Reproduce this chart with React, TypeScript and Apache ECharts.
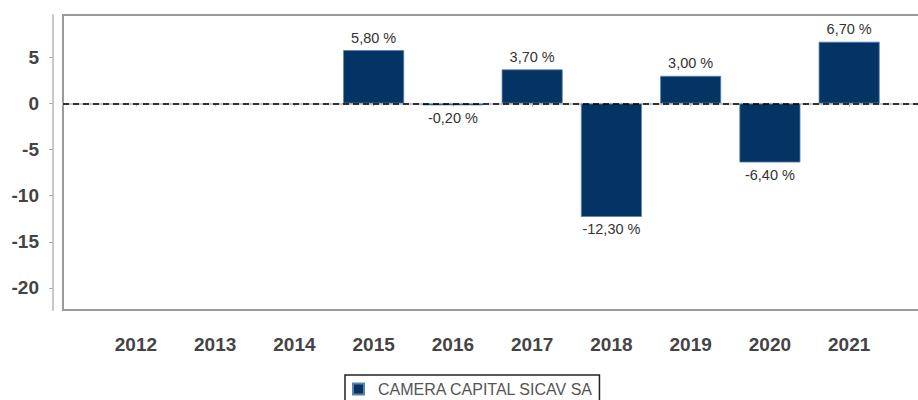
import React, { useEffect, useRef } from "react";
import * as echarts from "echarts";

const years = [2012, 2013, 2014, 2015, 2016, 2017, 2018, 2019, 2020, 2021];
const values: (number | null)[] = [null, null, null, 5.8, -0.2, 3.7, -12.3, 3.0, -6.4, 6.7];
const yTicks = [-20, -15, -10, -5, 0, 5];
const seriesName = "CAMERA CAPITAL SICAV SA";

const fmt = (v: number) => v.toFixed(2).replace(".", ",") + " %";

export default function App() {
  const ref = useRef<HTMLDivElement>(null);
  useEffect(() => {
    if (!ref.current) return;
    const chart = echarts.init(ref.current, null, { renderer: "svg" });
    const font = "'Liberation Sans', Arial, sans-serif";
    chart.setOption({
      animation: false,
      grid: {
        left: 63,
        right: -12,
        top: 15,
        bottom: 90,
        show: false,
        containLabel: false,
        outerBoundsMode: "none",
      },
      graphic: [
        {
          type: "polyline",
          silent: true,
          shape: { points: [[930, 15], [63, 15], [63, 310], [930, 310]] },
          style: { stroke: "#9a9a9a", lineWidth: 2, fill: null },
        },
      ],
      xAxis: {
        type: "value",
        min: 2011.08,
        max: 2022.02,
        offset: 8,
        axisLine: { show: true, lineStyle: { color: "#c8c8c8", width: 2 } },
        axisTick: {
          show: true,
          length: 3,
          inside: false,
          customValues: years,
          lineStyle: { color: "#b0b0b0" },
        },
        axisLabel: {
          customValues: years,
          margin: 17,
          fontFamily: font,
          fontWeight: "bold",
          fontSize: 19,
          color: "#444",
          formatter: (v: number) => String(Math.round(v)),
        },
        splitLine: { show: false },
      },
      yAxis: {
        type: "value",
        min: -22.4,
        max: 9.6,
        offset: 10,
        axisLine: { show: true, lineStyle: { color: "#c8c8c8", width: 2 } },
        axisTick: {
          show: true,
          length: 4,
          customValues: yTicks,
          lineStyle: { color: "#b0b0b0" },
        },
        axisLabel: {
          customValues: yTicks,
          margin: 14,
          fontFamily: font,
          fontWeight: "bold",
          fontSize: 19,
          color: "#444",
        },
        splitLine: { show: false },
      },
      legend: {
        left: 345,
        top: 375,
        data: [seriesName],
        icon: "rect",
        itemWidth: 11,
        itemHeight: 11,
        borderColor: "#222",
        borderWidth: 1.5,
        padding: [6, 6, 10, 7],
        textStyle: {
          fontFamily: font,
          fontSize: 16,
          color: "#555",
          padding: [0, 0, 0, 9],
        },
      },
      series: [
        {
          name: seriesName,
          type: "bar",
          barWidth: 61,
          data: years.map((y, i) => {
            const v = values[i];
            if (v != null && v < 0) {
              return { value: [y, v], label: { position: "bottom" } };
            }
            return [y, v];
          }),
          itemStyle: { color: "#033463", borderColor: "#5d83ad", borderWidth: 0.8 },
          label: {
            show: true,
            fontFamily: font,
            fontSize: 14.5,
            color: "#333",
            distance: 5,
            position: "top",
            formatter: (p: any) => (p.value[1] == null ? "" : fmt(p.value[1])),
          },
          markLine: {
            silent: true,
            symbol: "none",
            label: { show: false },
            lineStyle: { color: "#000", type: [6, 4], width: 1.5 },
            data: [{ yAxis: 0 }],
          },
        },
      ],
    });
    return () => chart.dispose();
  }, []);
  return (
    <div
      ref={ref}
      style={{ width: 918, height: 400, position: "absolute", left: 0, top: 0, overflow: "hidden" }}
    />
  );
}
